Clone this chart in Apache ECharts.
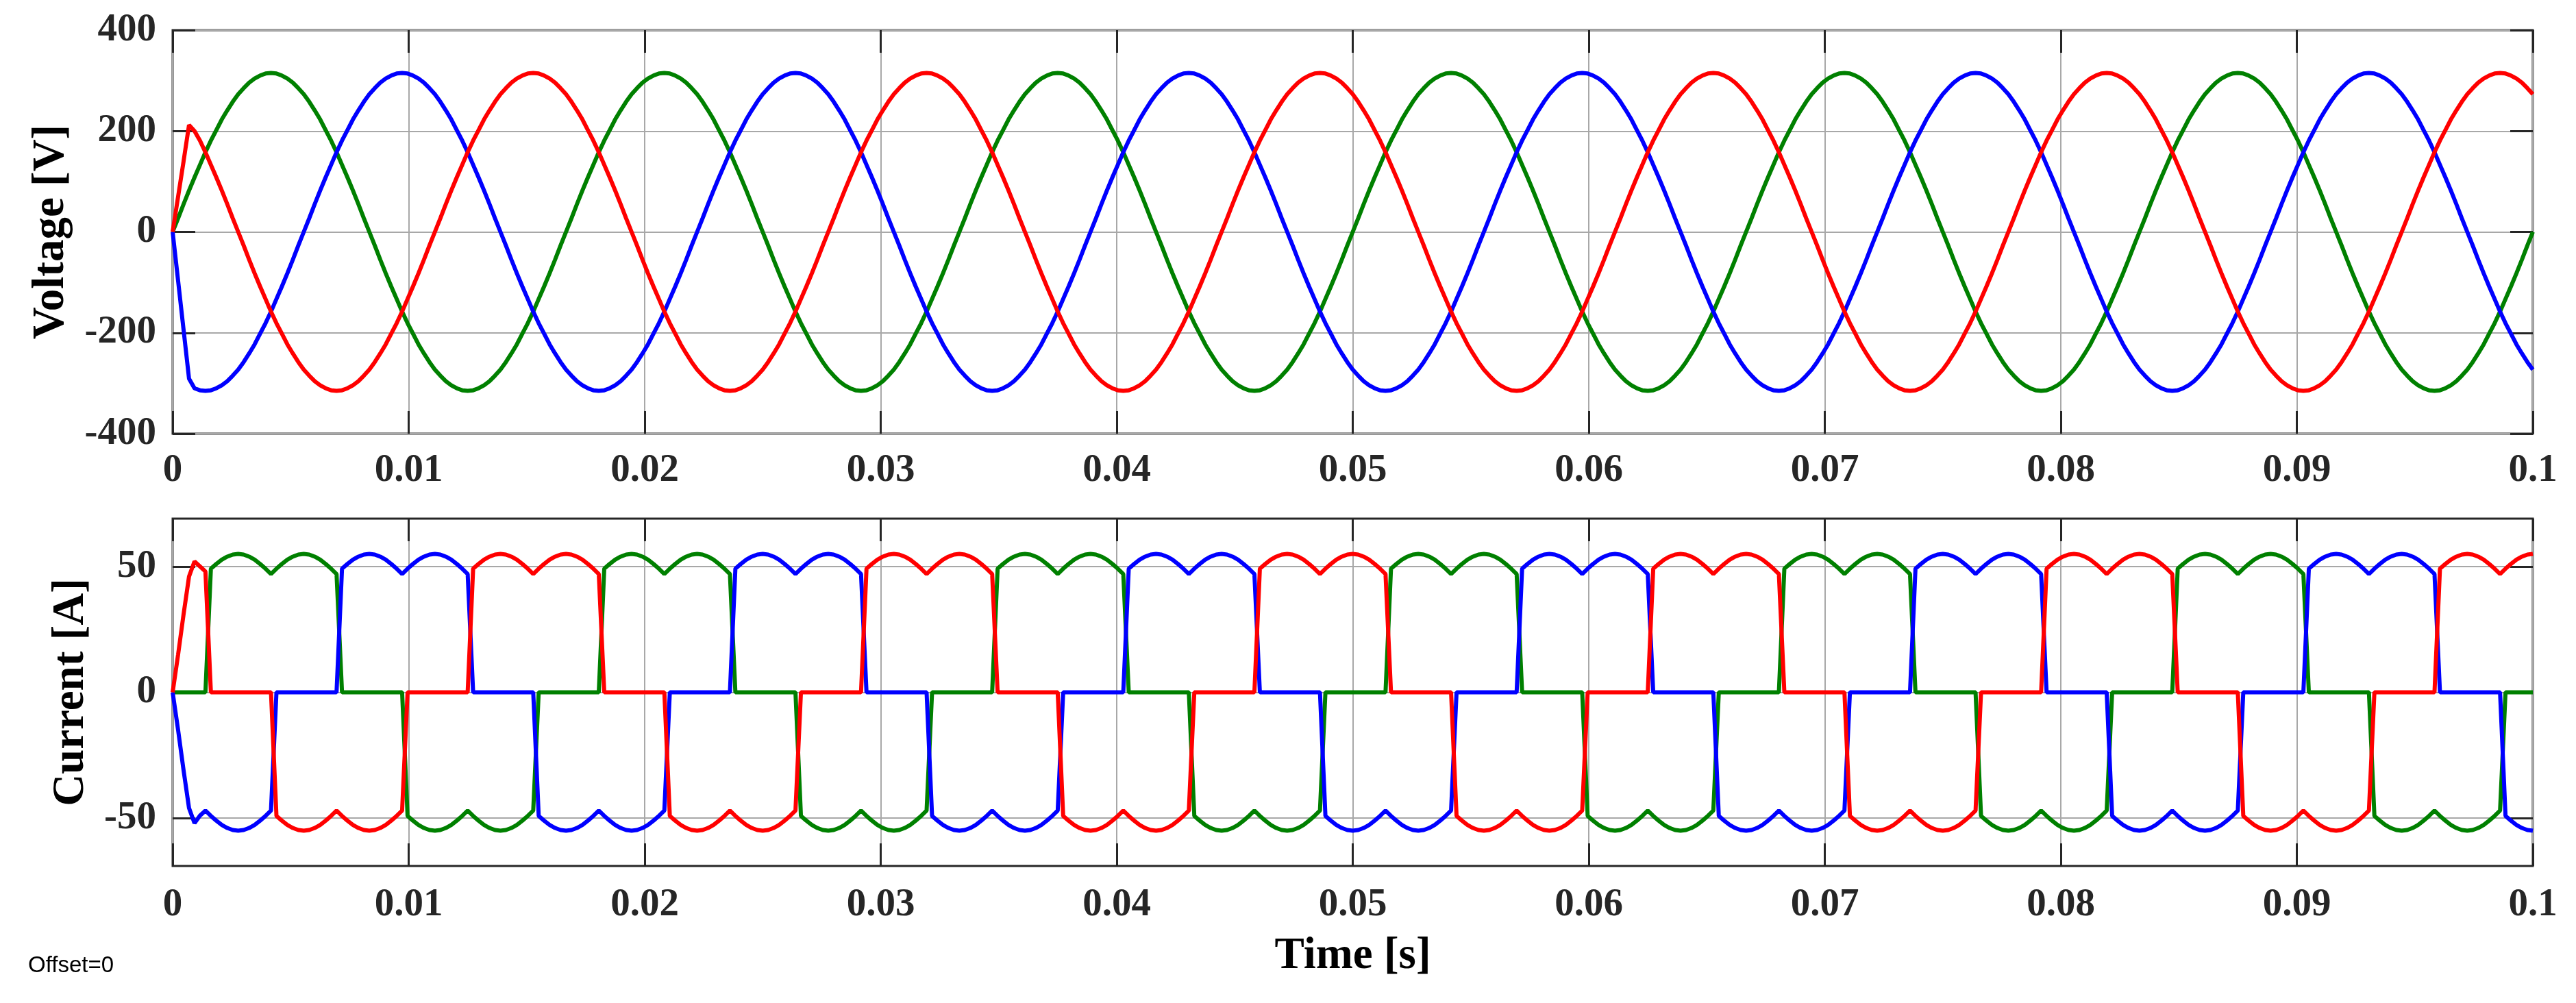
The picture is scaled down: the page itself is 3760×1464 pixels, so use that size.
<!DOCTYPE html>
<html>
<head>
<meta charset="utf-8">
<title>Voltage and current</title>
<script src="https://cdn.jsdelivr.net/npm/echarts@6/dist/echarts.min.js"></script>
<style>
  html, body { margin: 0; padding: 0; background: #fff; }
  #chart { width: 3760px; height: 1464px; }
</style>
</head>
<body>
<div id="chart"></div>
<script>
// one sample every 5 electrical degrees of the 60 Hz supply
var SAMPLE_STEP = 1 / 4320;

var timeTicks = ['0', '0.01', '0.02', '0.03', '0.04', '0.05', '0.06', '0.07', '0.08', '0.09', '0.1'];
var voltTicks = [-400, -200, 0, 200, 400];
var currTicks = [-50, 0, 50];

// phase voltages [V]
var voltGreen = [
0,27,55,82,108,133,158,181,202,223,241,258,273,285,296,304,310,314,315,314,310,304,296,285,273,258,241,223,202,181,158,133,108,82,55,27,0,-27,-55,-82,-108,-133,-158,-181,-202,-223,-241,-258,-273,-285,-296,-304,-310,-314,-315,-314,-310,-304,-296,-285,-273,-258,-241,-223,-202,-181,-158,-133,-108,-82,-55,-27,
0,27,55,82,108,133,158,181,202,223,241,258,273,285,296,304,310,314,315,314,310,304,296,285,273,258,241,223,202,181,158,133,108,82,55,27,0,-27,-55,-82,-108,-133,-158,-181,-202,-223,-241,-258,-273,-285,-296,-304,-310,-314,-315,-314,-310,-304,-296,-285,-273,-258,-241,-223,-202,-181,-158,-133,-108,-82,-55,-27,
0,27,55,82,108,133,158,181,202,223,241,258,273,285,296,304,310,314,315,314,310,304,296,285,273,258,241,223,202,181,158,133,108,82,55,27,0,-27,-55,-82,-108,-133,-158,-181,-202,-223,-241,-258,-273,-285,-296,-304,-310,-314,-315,-314,-310,-304,-296,-285,-273,-258,-241,-223,-202,-181,-158,-133,-108,-82,-55,-27,
0,27,55,82,108,133,158,181,202,223,241,258,273,285,296,304,310,314,315,314,310,304,296,285,273,258,241,223,202,181,158,133,108,82,55,27,0,-27,-55,-82,-108,-133,-158,-181,-202,-223,-241,-258,-273,-285,-296,-304,-310,-314,-315,-314,-310,-304,-296,-285,-273,-258,-241,-223,-202,-181,-158,-133,-108,-82,-55,-27,
0,27,55,82,108,133,158,181,202,223,241,258,273,285,296,304,310,314,315,314,310,304,296,285,273,258,241,223,202,181,158,133,108,82,55,27,0,-27,-55,-82,-108,-133,-158,-181,-202,-223,-241,-258,-273,-285,-296,-304,-310,-314,-315,-314,-310,-304,-296,-285,-273,-258,-241,-223,-202,-181,-158,-133,-108,-82,-55,-27,
0,27,55,82,108,133,158,181,202,223,241,258,273,285,296,304,310,314,315,314,310,304,296,285,273,258,241,223,202,181,158,133,108,82,55,27,0,-27,-55,-82,-108,-133,-158,-181,-202,-223,-241,-258,-273,-285,-296,-304,-310,-314,-315,-314,-310,-304,-296,-285,-273,-258,-241,-223,-202,-181,-158,-133,-108,-82,-55,-27,
0
];

var voltBlue = [
0,-97,-194,-291,-310,-314,-315,-314,-310,-304,-296,-285,-273,-258,-241,-223,-202,-181,-158,-133,-108,-82,-55,-27,0,27,55,82,108,133,158,181,202,223,241,258,273,285,296,304,310,314,315,314,310,304,296,285,273,258,241,223,202,181,158,133,108,82,55,27,0,-27,-55,-82,-108,-133,-158,-181,-202,-223,-241,-258,
-273,-285,-296,-304,-310,-314,-315,-314,-310,-304,-296,-285,-273,-258,-241,-223,-202,-181,-158,-133,-108,-82,-55,-27,0,27,55,82,108,133,158,181,202,223,241,258,273,285,296,304,310,314,315,314,310,304,296,285,273,258,241,223,202,181,158,133,108,82,55,27,0,-27,-55,-82,-108,-133,-158,-181,-202,-223,-241,-258,
-273,-285,-296,-304,-310,-314,-315,-314,-310,-304,-296,-285,-273,-258,-241,-223,-202,-181,-158,-133,-108,-82,-55,-27,0,27,55,82,108,133,158,181,202,223,241,258,273,285,296,304,310,314,315,314,310,304,296,285,273,258,241,223,202,181,158,133,108,82,55,27,0,-27,-55,-82,-108,-133,-158,-181,-202,-223,-241,-258,
-273,-285,-296,-304,-310,-314,-315,-314,-310,-304,-296,-285,-273,-258,-241,-223,-202,-181,-158,-133,-108,-82,-55,-27,0,27,55,82,108,133,158,181,202,223,241,258,273,285,296,304,310,314,315,314,310,304,296,285,273,258,241,223,202,181,158,133,108,82,55,27,0,-27,-55,-82,-108,-133,-158,-181,-202,-223,-241,-258,
-273,-285,-296,-304,-310,-314,-315,-314,-310,-304,-296,-285,-273,-258,-241,-223,-202,-181,-158,-133,-108,-82,-55,-27,0,27,55,82,108,133,158,181,202,223,241,258,273,285,296,304,310,314,315,314,310,304,296,285,273,258,241,223,202,181,158,133,108,82,55,27,0,-27,-55,-82,-108,-133,-158,-181,-202,-223,-241,-258,
-273,-285,-296,-304,-310,-314,-315,-314,-310,-304,-296,-285,-273,-258,-241,-223,-202,-181,-158,-133,-108,-82,-55,-27,0,27,55,82,108,133,158,181,202,223,241,258,273,285,296,304,310,314,315,314,310,304,296,285,273,258,241,223,202,181,158,133,108,82,55,27,0,-27,-55,-82,-108,-133,-158,-181,-202,-223,-241,-258,
-273
];

var voltRed = [
0,70,140,212,200,181,158,133,108,82,55,27,0,-27,-55,-82,-108,-133,-158,-181,-202,-223,-241,-258,-273,-285,-296,-304,-310,-314,-315,-314,-310,-304,-296,-285,-273,-258,-241,-223,-202,-181,-158,-133,-108,-82,-55,-27,0,27,55,82,108,133,158,181,202,223,241,258,273,285,296,304,310,314,315,314,310,304,296,285,
273,258,241,223,202,181,158,133,108,82,55,27,0,-27,-55,-82,-108,-133,-158,-181,-202,-223,-241,-258,-273,-285,-296,-304,-310,-314,-315,-314,-310,-304,-296,-285,-273,-258,-241,-223,-202,-181,-158,-133,-108,-82,-55,-27,0,27,55,82,108,133,158,181,202,223,241,258,273,285,296,304,310,314,315,314,310,304,296,285,
273,258,241,223,202,181,158,133,108,82,55,27,0,-27,-55,-82,-108,-133,-158,-181,-202,-223,-241,-258,-273,-285,-296,-304,-310,-314,-315,-314,-310,-304,-296,-285,-273,-258,-241,-223,-202,-181,-158,-133,-108,-82,-55,-27,0,27,55,82,108,133,158,181,202,223,241,258,273,285,296,304,310,314,315,314,310,304,296,285,
273,258,241,223,202,181,158,133,108,82,55,27,0,-27,-55,-82,-108,-133,-158,-181,-202,-223,-241,-258,-273,-285,-296,-304,-310,-314,-315,-314,-310,-304,-296,-285,-273,-258,-241,-223,-202,-181,-158,-133,-108,-82,-55,-27,0,27,55,82,108,133,158,181,202,223,241,258,273,285,296,304,310,314,315,314,310,304,296,285,
273,258,241,223,202,181,158,133,108,82,55,27,0,-27,-55,-82,-108,-133,-158,-181,-202,-223,-241,-258,-273,-285,-296,-304,-310,-314,-315,-314,-310,-304,-296,-285,-273,-258,-241,-223,-202,-181,-158,-133,-108,-82,-55,-27,0,27,55,82,108,133,158,181,202,223,241,258,273,285,296,304,310,314,315,314,310,304,296,285,
273,258,241,223,202,181,158,133,108,82,55,27,0,-27,-55,-82,-108,-133,-158,-181,-202,-223,-241,-258,-273,-285,-296,-304,-310,-314,-315,-314,-310,-304,-296,-285,-273,-258,-241,-223,-202,-181,-158,-133,-108,-82,-55,-27,0,27,55,82,108,133,158,181,202,223,241,258,273,285,296,304,310,314,315,314,310,304,296,285,
273
];

// line currents [A]
var currGreen = [
0,0,0,0,0,0,0,49.1,51,52.7,53.9,54.7,55,54.7,53.9,52.7,51,49.1,47,49.1,51,52.7,53.9,54.7,55,54.7,53.9,52.7,51,49.1,47,0,0,0,0,0,0,0,0,0,0,0,0,-49.1,-51,-52.7,-53.9,-54.7,-55,-54.7,-53.9,-52.7,-51,-49.1,-47,-49.1,-51,-52.7,-53.9,-54.7,-55,-54.7,-53.9,-52.7,-51,-49.1,-47,0,0,0,0,0,
0,0,0,0,0,0,0,49.1,51,52.7,53.9,54.7,55,54.7,53.9,52.7,51,49.1,47,49.1,51,52.7,53.9,54.7,55,54.7,53.9,52.7,51,49.1,47,0,0,0,0,0,0,0,0,0,0,0,0,-49.1,-51,-52.7,-53.9,-54.7,-55,-54.7,-53.9,-52.7,-51,-49.1,-47,-49.1,-51,-52.7,-53.9,-54.7,-55,-54.7,-53.9,-52.7,-51,-49.1,-47,0,0,0,0,0,
0,0,0,0,0,0,0,49.1,51,52.7,53.9,54.7,55,54.7,53.9,52.7,51,49.1,47,49.1,51,52.7,53.9,54.7,55,54.7,53.9,52.7,51,49.1,47,0,0,0,0,0,0,0,0,0,0,0,0,-49.1,-51,-52.7,-53.9,-54.7,-55,-54.7,-53.9,-52.7,-51,-49.1,-47,-49.1,-51,-52.7,-53.9,-54.7,-55,-54.7,-53.9,-52.7,-51,-49.1,-47,0,0,0,0,0,
0,0,0,0,0,0,0,49.1,51,52.7,53.9,54.7,55,54.7,53.9,52.7,51,49.1,47,49.1,51,52.7,53.9,54.7,55,54.7,53.9,52.7,51,49.1,47,0,0,0,0,0,0,0,0,0,0,0,0,-49.1,-51,-52.7,-53.9,-54.7,-55,-54.7,-53.9,-52.7,-51,-49.1,-47,-49.1,-51,-52.7,-53.9,-54.7,-55,-54.7,-53.9,-52.7,-51,-49.1,-47,0,0,0,0,0,
0,0,0,0,0,0,0,49.1,51,52.7,53.9,54.7,55,54.7,53.9,52.7,51,49.1,47,49.1,51,52.7,53.9,54.7,55,54.7,53.9,52.7,51,49.1,47,0,0,0,0,0,0,0,0,0,0,0,0,-49.1,-51,-52.7,-53.9,-54.7,-55,-54.7,-53.9,-52.7,-51,-49.1,-47,-49.1,-51,-52.7,-53.9,-54.7,-55,-54.7,-53.9,-52.7,-51,-49.1,-47,0,0,0,0,0,
0,0,0,0,0,0,0,49.1,51,52.7,53.9,54.7,55,54.7,53.9,52.7,51,49.1,47,49.1,51,52.7,53.9,54.7,55,54.7,53.9,52.7,51,49.1,47,0,0,0,0,0,0,0,0,0,0,0,0,-49.1,-51,-52.7,-53.9,-54.7,-55,-54.7,-53.9,-52.7,-51,-49.1,-47,-49.1,-51,-52.7,-53.9,-54.7,-55,-54.7,-53.9,-52.7,-51,-49.1,-47,0,0,0,0,0,
0
];

var currBlue = [
0,-15,-31,-46,-52,-49,-47,-49.1,-51,-52.7,-53.9,-54.7,-55,-54.7,-53.9,-52.7,-51,-49.1,-47,0,0,0,0,0,0,0,0,0,0,0,0,49.1,51,52.7,53.9,54.7,55,54.7,53.9,52.7,51,49.1,47,49.1,51,52.7,53.9,54.7,55,54.7,53.9,52.7,51,49.1,47,0,0,0,0,0,0,0,0,0,0,0,0,-49.1,-51,-52.7,-53.9,-54.7,
-55,-54.7,-53.9,-52.7,-51,-49.1,-47,-49.1,-51,-52.7,-53.9,-54.7,-55,-54.7,-53.9,-52.7,-51,-49.1,-47,0,0,0,0,0,0,0,0,0,0,0,0,49.1,51,52.7,53.9,54.7,55,54.7,53.9,52.7,51,49.1,47,49.1,51,52.7,53.9,54.7,55,54.7,53.9,52.7,51,49.1,47,0,0,0,0,0,0,0,0,0,0,0,0,-49.1,-51,-52.7,-53.9,-54.7,
-55,-54.7,-53.9,-52.7,-51,-49.1,-47,-49.1,-51,-52.7,-53.9,-54.7,-55,-54.7,-53.9,-52.7,-51,-49.1,-47,0,0,0,0,0,0,0,0,0,0,0,0,49.1,51,52.7,53.9,54.7,55,54.7,53.9,52.7,51,49.1,47,49.1,51,52.7,53.9,54.7,55,54.7,53.9,52.7,51,49.1,47,0,0,0,0,0,0,0,0,0,0,0,0,-49.1,-51,-52.7,-53.9,-54.7,
-55,-54.7,-53.9,-52.7,-51,-49.1,-47,-49.1,-51,-52.7,-53.9,-54.7,-55,-54.7,-53.9,-52.7,-51,-49.1,-47,0,0,0,0,0,0,0,0,0,0,0,0,49.1,51,52.7,53.9,54.7,55,54.7,53.9,52.7,51,49.1,47,49.1,51,52.7,53.9,54.7,55,54.7,53.9,52.7,51,49.1,47,0,0,0,0,0,0,0,0,0,0,0,0,-49.1,-51,-52.7,-53.9,-54.7,
-55,-54.7,-53.9,-52.7,-51,-49.1,-47,-49.1,-51,-52.7,-53.9,-54.7,-55,-54.7,-53.9,-52.7,-51,-49.1,-47,0,0,0,0,0,0,0,0,0,0,0,0,49.1,51,52.7,53.9,54.7,55,54.7,53.9,52.7,51,49.1,47,49.1,51,52.7,53.9,54.7,55,54.7,53.9,52.7,51,49.1,47,0,0,0,0,0,0,0,0,0,0,0,0,-49.1,-51,-52.7,-53.9,-54.7,
-55,-54.7,-53.9,-52.7,-51,-49.1,-47,-49.1,-51,-52.7,-53.9,-54.7,-55,-54.7,-53.9,-52.7,-51,-49.1,-47,0,0,0,0,0,0,0,0,0,0,0,0,49.1,51,52.7,53.9,54.7,55,54.7,53.9,52.7,51,49.1,47,49.1,51,52.7,53.9,54.7,55,54.7,53.9,52.7,51,49.1,47,0,0,0,0,0,0,0,0,0,0,0,0,-49.1,-51,-52.7,-53.9,-54.7,
-55
];

var currRed = [
0,15,31,46,52,50,48,0,0,0,0,0,0,0,0,0,0,0,0,-49.1,-51,-52.7,-53.9,-54.7,-55,-54.7,-53.9,-52.7,-51,-49.1,-47,-49.1,-51,-52.7,-53.9,-54.7,-55,-54.7,-53.9,-52.7,-51,-49.1,-47,0,0,0,0,0,0,0,0,0,0,0,0,49.1,51,52.7,53.9,54.7,55,54.7,53.9,52.7,51,49.1,47,49.1,51,52.7,53.9,54.7,
55,54.7,53.9,52.7,51,49.1,47,0,0,0,0,0,0,0,0,0,0,0,0,-49.1,-51,-52.7,-53.9,-54.7,-55,-54.7,-53.9,-52.7,-51,-49.1,-47,-49.1,-51,-52.7,-53.9,-54.7,-55,-54.7,-53.9,-52.7,-51,-49.1,-47,0,0,0,0,0,0,0,0,0,0,0,0,49.1,51,52.7,53.9,54.7,55,54.7,53.9,52.7,51,49.1,47,49.1,51,52.7,53.9,54.7,
55,54.7,53.9,52.7,51,49.1,47,0,0,0,0,0,0,0,0,0,0,0,0,-49.1,-51,-52.7,-53.9,-54.7,-55,-54.7,-53.9,-52.7,-51,-49.1,-47,-49.1,-51,-52.7,-53.9,-54.7,-55,-54.7,-53.9,-52.7,-51,-49.1,-47,0,0,0,0,0,0,0,0,0,0,0,0,49.1,51,52.7,53.9,54.7,55,54.7,53.9,52.7,51,49.1,47,49.1,51,52.7,53.9,54.7,
55,54.7,53.9,52.7,51,49.1,47,0,0,0,0,0,0,0,0,0,0,0,0,-49.1,-51,-52.7,-53.9,-54.7,-55,-54.7,-53.9,-52.7,-51,-49.1,-47,-49.1,-51,-52.7,-53.9,-54.7,-55,-54.7,-53.9,-52.7,-51,-49.1,-47,0,0,0,0,0,0,0,0,0,0,0,0,49.1,51,52.7,53.9,54.7,55,54.7,53.9,52.7,51,49.1,47,49.1,51,52.7,53.9,54.7,
55,54.7,53.9,52.7,51,49.1,47,0,0,0,0,0,0,0,0,0,0,0,0,-49.1,-51,-52.7,-53.9,-54.7,-55,-54.7,-53.9,-52.7,-51,-49.1,-47,-49.1,-51,-52.7,-53.9,-54.7,-55,-54.7,-53.9,-52.7,-51,-49.1,-47,0,0,0,0,0,0,0,0,0,0,0,0,49.1,51,52.7,53.9,54.7,55,54.7,53.9,52.7,51,49.1,47,49.1,51,52.7,53.9,54.7,
55,54.7,53.9,52.7,51,49.1,47,0,0,0,0,0,0,0,0,0,0,0,0,-49.1,-51,-52.7,-53.9,-54.7,-55,-54.7,-53.9,-52.7,-51,-49.1,-47,-49.1,-51,-52.7,-53.9,-54.7,-55,-54.7,-53.9,-52.7,-51,-49.1,-47,0,0,0,0,0,0,0,0,0,0,0,0,49.1,51,52.7,53.9,54.7,55,54.7,53.9,52.7,51,49.1,47,49.1,51,52.7,53.9,54.7,
55
];

var AXIS_COLOR = '#262626';
var GRID_COLOR = '#a8a8a8';
var FONT = '"Liberation Serif", "Times New Roman", serif';

function toPairs(values) {
	var out = [];
	for (var k = 0; k < values.length; k++) {
		out.push([k * SAMPLE_STEP, values[k]]);
	}
	return out;
}

function tickLabel(v) {
	return timeTicks[Math.round(v * 100)];
}

var labelStyle = {
	fontFamily: FONT,
	fontWeight: 'bold',
	fontSize: 57,
	color: AXIS_COLOR
};
var nameStyle = {
	fontFamily: FONT,
	fontWeight: 'bold',
	fontSize: 65,
	color: '#000'
};
var innerTick = {
	show: true,
	inside: true,
	length: 33,
	lineStyle: { color: AXIS_COLOR, width: 3 }
};
var noLine = { show: false, onZero: false };
var gridLine = { show: true, lineStyle: { color: GRID_COLOR, width: 2 } };

function timeAxis(gridIndex, position, withLabels, name) {
	var ax = {
		type: 'value',
		gridIndex: gridIndex,
		position: position,
		min: 0,
		max: 0.1,
		interval: 0.01,
		axisLine: noLine,
		axisTick: innerTick,
		splitLine: withLabels ? gridLine : { show: false },
		axisLabel: withLabels ? Object.assign({ margin: gridIndex === 0 ? 26 : 29, formatter: tickLabel }, labelStyle) : { show: false }
	};
	if (name) {
		ax.name = name;
		ax.nameLocation = 'middle';
		ax.nameGap = 100;
		ax.nameTextStyle = nameStyle;
	}
	return ax;
}

function lineSeries(name, color, xi, yi, values) {
	return {
		name: name,
		type: 'line',
		xAxisIndex: xi,
		yAxisIndex: yi,
		data: toPairs(values),
		showSymbol: false,
		symbol: 'none',
		lineStyle: { color: color, width: 6 },
		itemStyle: { color: color },
		emphasis: { disabled: true }
	};
}

var myChart = echarts.init(document.getElementById('chart'), null, { renderer: 'canvas' });

var option = {
	backgroundColor: '#ffffff',
	animation: false,
	grid: [
		{ left: 252, right: 63, top: 44, height: 589, show: true, borderColor: AXIS_COLOR, borderWidth: 3, backgroundColor: '#fff' },
		{ left: 252, right: 63, top: 757, height: 507, show: true, borderColor: AXIS_COLOR, borderWidth: 3, backgroundColor: '#fff' }
	],
	xAxis: [
		timeAxis(0, 'bottom', true),
		timeAxis(0, 'top', false),
		timeAxis(1, 'bottom', true, 'Time [s]'),
		timeAxis(1, 'top', false)
	],
	yAxis: [
		{
			type: 'value', gridIndex: 0, position: 'left',
			min: voltTicks[0], max: voltTicks[voltTicks.length - 1], interval: 200,
			axisLine: noLine, axisTick: innerTick, splitLine: gridLine,
			axisLabel: Object.assign({ margin: 24 }, labelStyle),
			name: 'Voltage [V]', nameLocation: 'middle', nameGap: 144, nameTextStyle: nameStyle
		},
		{
			type: 'value', gridIndex: 0, position: 'right',
			min: voltTicks[0], max: voltTicks[voltTicks.length - 1], interval: 200,
			axisLine: noLine, axisTick: innerTick, splitLine: { show: false },
			axisLabel: { show: false }
		},
		{
			type: 'value', gridIndex: 1, position: 'left',
			min: -69, max: 69,
			axisLine: noLine,
			axisTick: Object.assign({ customValues: currTicks }, innerTick),
			splitLine: gridLine,
			axisLabel: Object.assign({ margin: 24, customValues: currTicks }, labelStyle),
			name: 'Current [A]', nameLocation: 'middle', nameGap: 115, nameTextStyle: nameStyle
		},
		{
			type: 'value', gridIndex: 1, position: 'right',
			min: -69, max: 69,
			axisLine: noLine,
			axisTick: Object.assign({ customValues: currTicks }, innerTick),
			splitLine: { show: false },
			axisLabel: { show: false }
		}
	],
	graphic: [
		{
			type: 'text',
			left: 41,
			top: 1393,
			style: {
				text: 'Offset=0',
				fontFamily: '"Liberation Sans", Arial, sans-serif',
				fontSize: 33,
				fill: '#000'
			}
		}
	],
	series: [
		lineSeries('va', '#008000', 0, 0, voltGreen),
		lineSeries('vb', '#0000ff', 0, 0, voltBlue),
		lineSeries('vc', '#ff0000', 0, 0, voltRed),
		lineSeries('ia', '#008000', 2, 2, currGreen),
		lineSeries('ib', '#0000ff', 2, 2, currBlue),
		lineSeries('ic', '#ff0000', 2, 2, currRed)
	]
};

myChart.setOption(option);
</script>
</body>
</html>
